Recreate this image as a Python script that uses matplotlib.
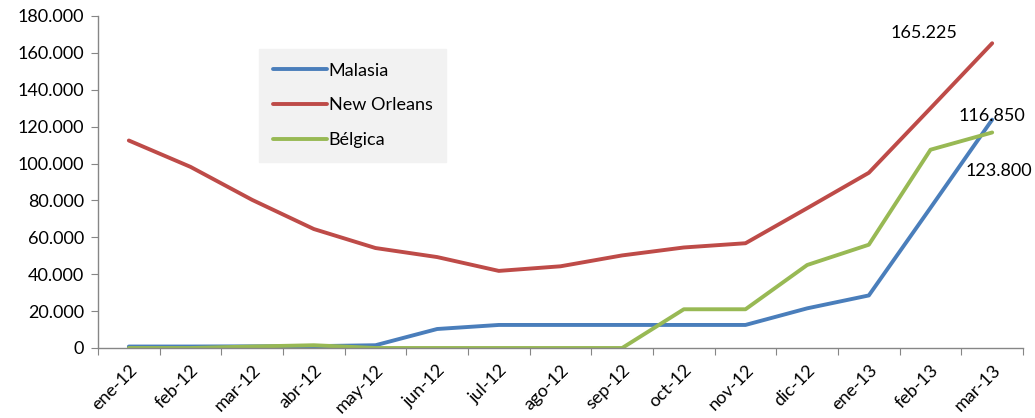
import matplotlib
matplotlib.use("Agg")
import matplotlib.pyplot as plt
import numpy as np
from matplotlib.ticker import FuncFormatter, FixedLocator

months = ["ene-12", "feb-12", "mar-12", "abr-12", "may-12", "jun-12", "jul-12", "ago-12",
          "sep-12", "oct-12", "nov-12", "dic-12", "ene-13", "feb-13", "mar-13"]
malasia = [800, 800, 900, 1000, 1500, 10300, 12500, 12500, 12500, 12500, 12500, 21500, 28500, 76000, 123800]
new_orleans = [112500, 98200, 80300, 64500, 54200, 49300, 41800, 44300, 50200, 54500, 56800, 75800, 95000, 130000, 165225]
belgica = [0, 0, 800, 1500, 0, 0, 0, 0, 0, 21000, 21000, 45000, 56000, 107500, 116850]

plt.rcParams['font.family'] = ['Lato', 'DejaVu Sans']
FS = 13

fig = plt.figure(figsize=(10.35, 4.18), dpi=100)
ax = fig.add_axes([98/1035, (418-348)/418, (1023-98)/1035, (348-16)/418])

x = np.arange(len(months)) + 0.5
lw = 2.8
ax.plot(x, malasia, color="#4A7EBB", lw=lw, label="Malasia", solid_capstyle="round")
ax.plot(x, new_orleans, color="#BE4B48", lw=lw, label="New Orleans", solid_capstyle="round")
ax.plot(x, belgica, color="#98B954", lw=lw, label="Bélgica", solid_capstyle="round")

ax.set_xlim(0, len(months))
ax.set_ylim(0, 180000)
ax.set_yticks(np.arange(0, 180001, 20000))
ax.yaxis.set_major_formatter(FuncFormatter(lambda v, p: f"{int(v):,}".replace(",", ".")))
ax.xaxis.set_major_locator(FixedLocator(np.arange(0, len(months) + 1)))
ax.xaxis.set_major_formatter(FuncFormatter(lambda v, p: ""))
ax.xaxis.set_minor_locator(FixedLocator(x))
ax.set_xticklabels(months, minor=True, rotation=45, ha="right", rotation_mode="anchor", fontsize=FS)
ax.tick_params(axis="x", which="minor", length=0, pad=10)
ax.tick_params(axis="x", which="major", length=5, color="#868686", direction="out")
ax.tick_params(axis="y", length=5, color="#868686", direction="out", labelsize=FS, pad=5)

for s in ["top", "right"]:
    ax.spines[s].set_visible(False)
for s in ["left", "bottom"]:
    ax.spines[s].set_color("#868686")
    ax.spines[s].set_linewidth(1)

leg = ax.legend(loc="upper left", bbox_to_anchor=((259-98)/925, (348-49)/332), frameon=True,
                fancybox=False, facecolor="#F2F2F2", edgecolor="#F2F2F2", fontsize=FS,
                handlelength=3.0, handletextpad=0.1, labelspacing=1.05, borderpad=0.75,
                borderaxespad=0)
leg.get_frame().set_alpha(1)

ax.text(x[-1] - 1.1, 171000, "165.225", fontsize=FS, ha="center", va="center")
ax.text(x[-1], 125800, "116.850", fontsize=FS, ha="center", va="center")
ax.text(x[-1] + 0.1, 96000, "123.800", fontsize=FS, ha="center", va="center")

fig.savefig("out.png", dpi=100)
